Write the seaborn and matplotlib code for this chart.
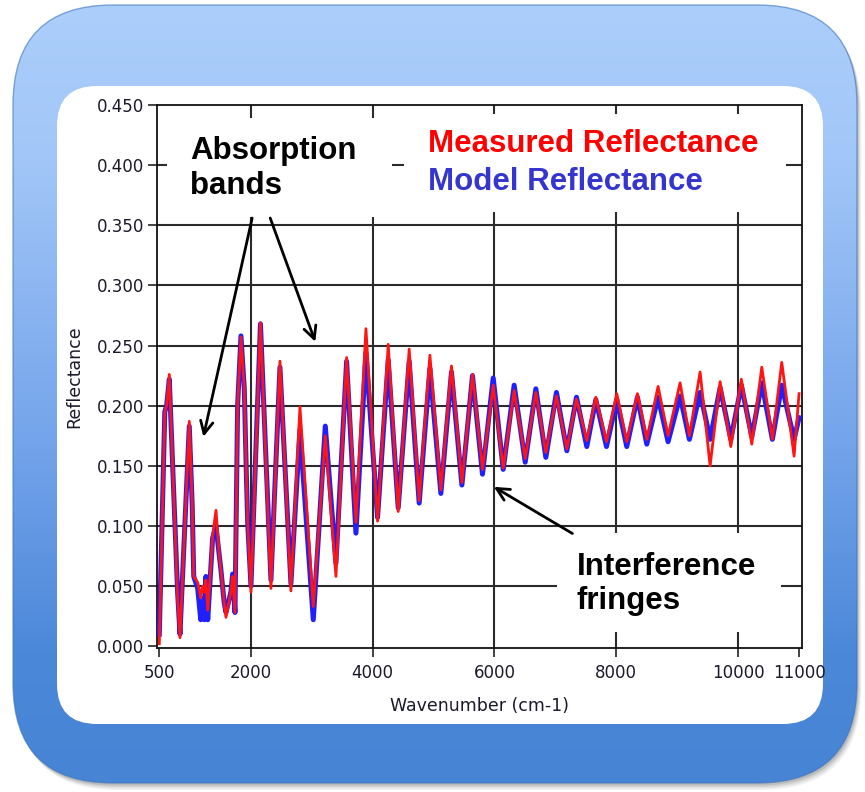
import numpy as np
import pandas as pd
import matplotlib
matplotlib.use("Agg")
import matplotlib.pyplot as plt
import seaborn as sns
from matplotlib.patches import FancyBboxPatch, Rectangle
from matplotlib.colors import to_rgb

# ---------------- data ----------------
wavenumber = [500, 590, 620, 664, 800, 839, 992, 1040, 1065, 1130, 1180, 1210, 1240,
              1265, 1295, 1350, 1375, 1430, 1485, 1510, 1565, 1594, 1675, 1703, 1742,
              1785, 1840, 1895, 1925, 1950, 2004, 2160, 2332, 2480, 2660, 2808, 3027,
              3224, 3399, 3574, 3727, 3891, 4082, 4257, 4421, 4601, 4765, 4941, 5121,
              5295, 5466, 5640, 5804, 5980, 6144, 6324, 6505, 6680, 6844, 7018, 7189,
              7347, 7516, 7664, 7839, 8008, 8172, 8347, 8501, 8686, 8850, 9047, 9200,
              9376, 9540, 9704, 9880, 10053, 10224, 10388, 10562, 10716, 10918, 11000]

measured = [0.002, 0.195, 0.200, 0.226, 0.040, 0.007, 0.187, 0.117, 0.058, 0.053,
            0.040, 0.050, 0.045, 0.055, 0.030, 0.069, 0.092, 0.113, 0.075, 0.064,
            0.036, 0.024, 0.045, 0.058, 0.028, 0.200, 0.257, 0.214, 0.150, 0.103,
            0.045, 0.269, 0.048, 0.237, 0.046, 0.199, 0.033, 0.175, 0.058, 0.240,
            0.103, 0.264, 0.104, 0.251, 0.112, 0.247, 0.121, 0.242, 0.130, 0.233,
            0.136, 0.226, 0.147, 0.217, 0.148, 0.2125, 0.156, 0.211, 0.161, 0.208,
            0.164, 0.2055, 0.171, 0.207, 0.170, 0.210, 0.170, 0.210, 0.172, 0.216,
            0.175, 0.219, 0.175, 0.228, 0.150, 0.220, 0.166, 0.222, 0.168, 0.232,
            0.172, 0.236, 0.158, 0.210]

model = [0.010, 0.195, 0.200, 0.222, 0.045, 0.010, 0.183, 0.117, 0.058, 0.048,
         0.022, 0.040, 0.022, 0.058, 0.022, 0.069, 0.090, 0.100, 0.075, 0.064,
         0.036, 0.028, 0.045, 0.060, 0.028, 0.200, 0.258, 0.214, 0.150, 0.103,
         0.050, 0.268, 0.055, 0.232, 0.052, 0.180, 0.022, 0.183, 0.069, 0.237,
         0.094, 0.244, 0.107, 0.238, 0.115, 0.237, 0.119, 0.231, 0.127, 0.228,
         0.134, 0.225, 0.143, 0.223, 0.147, 0.217, 0.153, 0.214, 0.157, 0.211,
         0.1625, 0.207, 0.166, 0.205, 0.166, 0.205, 0.166, 0.207, 0.168, 0.207,
         0.170, 0.208, 0.172, 0.211, 0.172, 0.215, 0.172, 0.217, 0.174, 0.219,
         0.172, 0.217, 0.172, 0.190]

x_ticks = [500, 2000, 4000, 6000, 8000, 10000, 11000]
y_ticks = [0.000, 0.050, 0.100, 0.150, 0.200, 0.250, 0.300, 0.350, 0.400, 0.450]
grid_x = [2000, 4000, 6000, 8000, 10000]
grid_y = [0.05, 0.10, 0.15, 0.20, 0.25, 0.30, 0.35, 0.40]

legend_measured = "Measured Reflectance"
legend_model = "Model Reflectance"
note_absorption = "Absorption\nbands"
note_fringes = "Interference\nfringes"
x_label = "Wavenumber (cm-1)"
y_label = "Reflectance"

df = pd.DataFrame({"wn": wavenumber, "measured": measured, "model": model})

# ---------------- figure ----------------
W, H = 865, 792
fig = plt.figure(figsize=(W / 100, H / 100), dpi=100)

# background (pixel coordinates, y downwards)
bg = fig.add_axes([0, 0, 1, 1], zorder=-10)
bg.set_xlim(0, W)
bg.set_ylim(H, 0)
bg.axis("off")

ox0, oy0, ox1, oy1 = 13, 5, 857, 783
# soft shadow
for i, a in enumerate([0.05, 0.06, 0.08, 0.10]):
    off = 7 - i * 1.5
    sh = FancyBboxPatch((ox0 + off * 0.6, oy0 + off), ox1 - ox0, oy1 - oy0,
                        boxstyle="round,pad=0,rounding_size=100",
                        fc="black", ec="none", alpha=a, zorder=0)
    bg.add_patch(sh)

outer = FancyBboxPatch((ox0, oy0), ox1 - ox0, oy1 - oy0,
                       boxstyle="round,pad=0,rounding_size=100",
                       fc="none", ec="none", zorder=1)
bg.add_patch(outer)
stops_y = [oy0, 160, 440, 650, oy1]
stops_c = ["#abcefb", "#a2c6f7", "#74a4eb", "#4c88d9", "#4884d4"]
ys = np.linspace(oy0, oy1, 400)
cols = np.array([to_rgb(c) for c in stops_c])
grad = np.stack([np.interp(ys, stops_y, cols[:, k]) for k in range(3)], axis=-1)
img = bg.imshow(grad[:, None, :], extent=(ox0, ox1, oy1, oy0), aspect="auto",
                zorder=1, interpolation="bilinear")
img.set_clip_path(outer)
edge = FancyBboxPatch((ox0, oy0), ox1 - ox0, oy1 - oy0,
                      boxstyle="round,pad=0,rounding_size=100",
                      fc="none", ec="#3d74c0", lw=1.0, alpha=0.6, zorder=2)
bg.add_patch(edge)

inner = FancyBboxPatch((57, 86), 823 - 57, 724 - 86,
                       boxstyle="round,pad=0,rounding_size=40",
                       fc="white", ec="none", zorder=3)
bg.add_patch(inner)

# main axes
ax = fig.add_axes([157 / W, 1 - 648 / H, (801.5 - 157) / W, (648 - 105) / H])
ax.set_facecolor("white")

sns.lineplot(data=df, x="wn", y="model", ax=ax, color="#1f1fff", linewidth=3.6,
             legend=False, zorder=5)
sns.lineplot(data=df, x="wn", y="measured", ax=ax, color="#ff1414", linewidth=2.0,
             legend=False, zorder=6)

ax.set_xlim(462, 11040)
ax.set_ylim(-0.0015, 0.450)

for gx in grid_x:
    ax.axvline(gx, color="#2b2b2b", lw=1.5, zorder=1)
for gy in grid_y:
    ax.axhline(gy, color="#2b2b2b", lw=1.5, zorder=1)

# white boxes behind the annotation texts (hide grid)
for (x0, x1, y0, y1) in [(626, 4327, 0.357, 0.439),
                         (4524, 10788, 0.361, 0.4425),
                         (7023, 10706, 0.0116, 0.094)]:
    ax.add_patch(Rectangle((x0, y0), x1 - x0, y1 - y0, fc="white", ec="none", zorder=2))

ax.set_xticks(x_ticks)
ax.set_xticklabels([str(v) for v in x_ticks])
ax.set_yticks(y_ticks)
ax.set_yticklabels([f"{v:.3f}" for v in y_ticks])
ax.tick_params(axis="both", direction="out", length=6.5, width=1.2, color="#222222",
               labelsize=12, labelcolor="#1a1a2a", pad=3)
ax.tick_params(axis="x", pad=5)
for s in ax.spines.values():
    s.set_color("#111111")
    s.set_linewidth(1.3)

ax.set_xlabel(x_label, fontsize=12.5, color="#1a1a2a")
ax.set_ylabel(y_label, fontsize=12.5, color="#1a1a2a")
ax.xaxis.set_label_coords(0.501, -0.090)
ax.yaxis.set_label_coords(-0.114, 0.5)

bold = dict(family=["Liberation Sans", "DejaVu Sans"], fontweight="bold", fontsize=22.5)
ax.text(1007, 0.397, note_absorption, color="black", ha="left", va="center",
        linespacing=1.2, zorder=8, **bold)
ax.text(4904, 0.4176, legend_measured, color="#ff0000", ha="left", va="center",
        zorder=8, **bold)
ax.text(4904, 0.386, legend_model, color="#3535cf", ha="left", va="center",
        zorder=8, **bold)
ax.text(7351, 0.0516, note_fringes, color="black", ha="left", va="center",
        linespacing=1.2, zorder=8, **bold)

arrow = dict(arrowstyle="->,head_length=0.9,head_width=0.45", color="black", lw=2.0,
             shrinkA=0, shrinkB=0)
ax.annotate("", xy=(1223, 0.1741), xytext=(2024, 0.356), arrowprops=arrow, zorder=9)
ax.annotate("", xy=(3060, 0.2531), xytext=(2320, 0.356), arrowprops=arrow, zorder=9)
ax.annotate("", xy=(5991, 0.1325), xytext=(7280, 0.0937), arrowprops=arrow, zorder=9)

fig.savefig("out.png", dpi=100)
